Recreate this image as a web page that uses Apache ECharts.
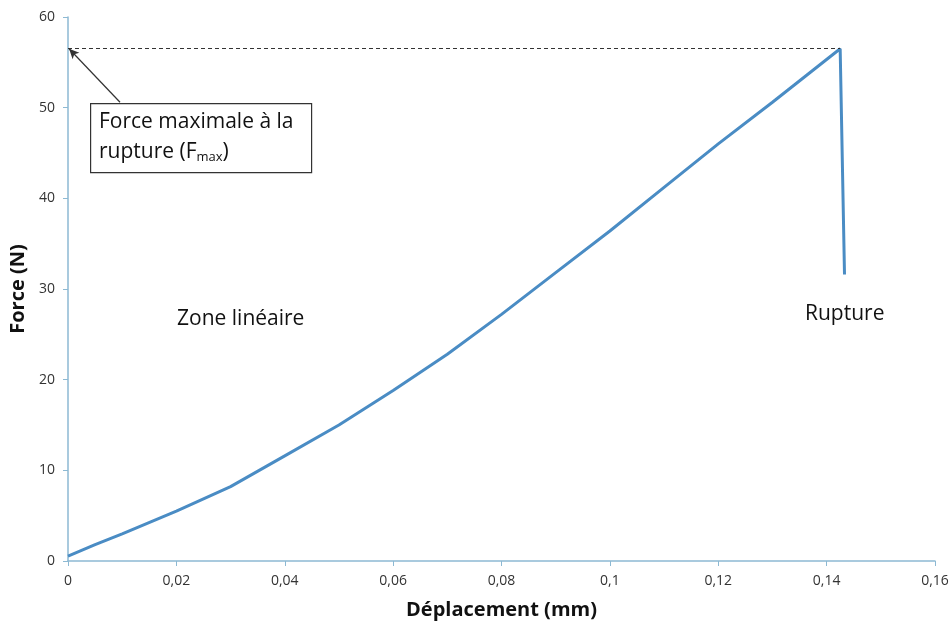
<!DOCTYPE html>
<html>
<head>
<meta charset="utf-8">
<script src="https://cdn.jsdelivr.net/npm/echarts@6/dist/echarts.min.js"></script>
<style>
  html, body { margin: 0; padding: 0; background: #fff; }
  #chart { width: 952px; height: 625px; }
</style>
</head>
<body>
<div id="chart"></div>
<script>
// déplacement (mm) / force (N)
var deplacement = [0, 0.005, 0.01, 0.02, 0.03, 0.04, 0.05, 0.06, 0.07, 0.08, 0.09, 0.1, 0.11, 0.12, 0.13, 0.1425, 0.1433];
var force = [0.55, 1.8, 3.0, 5.5, 8.2, 11.6, 15.0, 18.8, 22.8, 27.2, 31.8, 36.4, 41.2, 46.0, 50.6, 56.5, 31.6];
var fMax = 56.5;
var xTicks = [0, 0.02, 0.04, 0.06, 0.08, 0.1, 0.12, 0.14, 0.16];
var yTicks = [0, 10, 20, 30, 40, 50, 60];

var points = [];
for (var i = 0; i < deplacement.length; i++) {
    points.push([deplacement[i], force[i]]);
}
var iMax = force.indexOf(fMax);

var font = '"Open Sans", "Noto Sans", sans-serif';
var axisColor = '#8db9d3';

var myChart = echarts.init(document.getElementById('chart'));
var option = {
    animation: false,
    backgroundColor: '#ffffff',
    grid: { left: 68, right: 17, top: 17, bottom: 64 },
    xAxis: {
        type: 'value',
        min: xTicks[0],
        max: xTicks[xTicks.length - 1],
        interval: 0.02,
        name: 'Déplacement (mm)',
        nameLocation: 'middle',
        nameGap: 39,
        nameTextStyle: { fontFamily: font, fontWeight: 'bold', fontSize: 20, color: '#111' },
        axisLine: { lineStyle: { color: axisColor, width: 1.5 } },
        axisTick: { show: true, length: 5, lineStyle: { color: axisColor } },
        splitLine: { show: false },
        axisLabel: {
            fontFamily: font, fontSize: 14, color: '#333', margin: 13,
            formatter: function (v) { return String(+v.toFixed(2)).replace('.', ','); }
        }
    },
    yAxis: {
        type: 'value',
        min: yTicks[0],
        max: yTicks[yTicks.length - 1],
        interval: 10,
        name: 'Force (N)',
        nameLocation: 'middle',
        nameGap: 36,
        nameRotate: 90,
        nameTextStyle: { fontFamily: font, fontWeight: 'bold', fontSize: 20, color: '#111' },
        axisLine: { show: true, lineStyle: { color: axisColor, width: 1.5 } },
        axisTick: { show: true, length: 5, lineStyle: { color: axisColor } },
        splitLine: { show: false },
        axisLabel: { fontFamily: font, fontSize: 14, color: '#333', margin: 13 }
    },
    series: [
        {
            type: 'line',
            data: points,
            showSymbol: false,
            smooth: false,
            lineStyle: { color: '#4a8cc4', width: 3 },
            z: 3,
            markLine: {
                silent: true,
                animation: false,
                label: { show: false },
                data: [
                    [
                        { coord: [0, fMax], symbol: 'none', lineStyle: { color: '#333', type: [4, 3], width: 1 } },
                        { coord: [deplacement[iMax], fMax], symbol: 'none' }
                    ],
                    [
                        { coord: [0.0096, 50.6], symbol: 'none', lineStyle: { color: '#333', type: 'solid', width: 1.2 } },
                        { coord: [0.0002, fMax], symbol: 'arrow', symbolSize: [7, 10] }
                    ]
                ]
            }
        }
    ],
    graphic: [
        {
            type: 'rect',
            left: 90, top: 103,
            shape: { width: 221, height: 69 },
            style: { fill: '#fff', stroke: '#333', lineWidth: 1.2 },
            z: 10
        },
        {
            type: 'text',
            left: 99, top: 107,
            style: {
                text: 'Force maximale à la\nrupture (F{sub|max})',
                font: '21px ' + font,
                fill: '#111',
                lineHeight: 30,
                rich: { sub: { fontSize: 13, fontFamily: font, fill: '#111', padding: [11, 0, 0, 0] } }
            },
            z: 11
        },
        {
            type: 'text',
            left: 177, top: 309,
            style: { text: 'Zone linéaire', font: '21px ' + font, fill: '#111' },
            z: 11
        },
        {
            type: 'text',
            left: 805, top: 304,
            style: { text: 'Rupture', font: '21px ' + font, fill: '#111' },
            z: 11
        }
    ]
};
myChart.setOption(option);
</script>
</body>
</html>
